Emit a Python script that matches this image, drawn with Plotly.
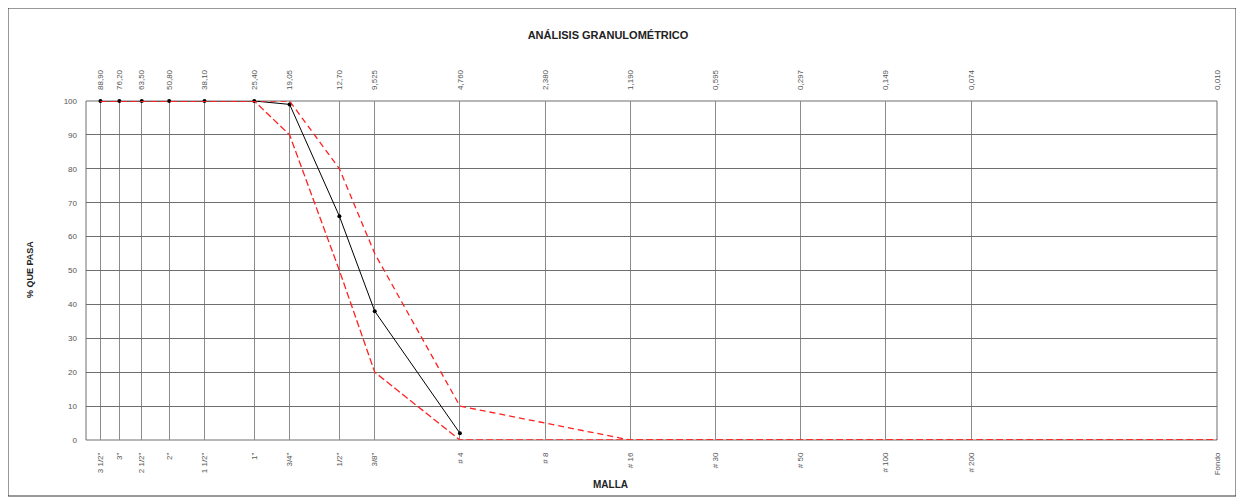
import plotly.graph_objects as go

sizes_mm = [88.9, 76.2, 63.5, 50.8, 38.1, 25.4, 19.05, 12.7, 9.525, 4.76, 2.38, 1.19, 0.595, 0.297, 0.149, 0.074, 0.010]
size_labels = ["88,90", "76,20", "63,50", "50,80", "38,10", "25,40", "19,05", "12,70", "9,525", "4,760",
               "2,380", "1,190", "0,595", "0,297", "0,149", "0,074", "0,010"]
mesh_labels = ['3 1/2"', '3"', '2 1/2"', '2"', '1 1/2"', '1"', '3/4"', '1/2"', '3/8"', '# 4',
               '# 8', '# 16', '# 30', '# 50', '# 100', '# 200', 'Fondo']

sample_x = [88.9, 76.2, 63.5, 50.8, 38.1, 25.4, 19.05, 12.7, 9.525, 4.76]
sample_pass = [100, 100, 100, 100, 100, 100, 99, 66, 38, 2]

upper_x = [88.9, 76.2, 63.5, 50.8, 38.1, 25.4, 19.05, 12.7, 9.525, 4.76, 2.38, 1.19, 0.595, 0.297, 0.149, 0.074, 0.010]
upper_pass = [100, 100, 100, 100, 100, 100, 100, 80, 55, 10, 5, 0, 0, 0, 0, 0, 0]
lower_x = [88.9, 76.2, 63.5, 50.8, 38.1, 25.4, 19.05, 12.7, 9.525, 4.76, 2.38, 1.19, 0.595, 0.297, 0.149, 0.074, 0.010]
lower_pass = [100, 100, 100, 100, 100, 100, 90, 50, 20, 0, 0, 0, 0, 0, 0, 0, 0]

# plot area in figure pixels (page has an 8px body margin)
L, R, T, B = 78, 1209, 93, 432
W, H = 1244, 498
PW, PH = R - L, B - T

fig = go.Figure()
fig.add_trace(go.Scatter(x=sample_x, y=sample_pass, mode="lines+markers", cliponaxis=False,
                         line=dict(color="#000000", width=1), marker=dict(color="#000000", size=4),
                         showlegend=False))
fig.add_trace(go.Scatter(x=upper_x, y=upper_pass, mode="lines", cliponaxis=False,
                         line=dict(color="#ff2020", width=1.3, dash="6px,4px"), showlegend=False))
fig.add_trace(go.Scatter(x=lower_x, y=lower_pass, mode="lines", cliponaxis=False,
                         line=dict(color="#ff2020", width=1.3, dash="7px,3px"), showlegend=False))
fig.add_trace(go.Scatter(x=sizes_mm, y=[None] * len(sizes_mm), xaxis="x2", mode="lines",
                         showlegend=False, hoverinfo="skip"))

tick_font = dict(family="Liberation Sans, Arial", size=8, color="#555555")
title_font = dict(family="Liberation Sans, Arial", color="#222222")
fig.update_layout(
    width=W, height=H,
    margin=dict(l=L, r=W - R, t=T, b=H - B),
    paper_bgcolor="white", plot_bgcolor="white",
    title=dict(text="<b>ANÁLISIS GRANULOMÉTRICO</b>", x=600 / W, xanchor="center", y=1 - 27 / H, yanchor="middle",
               font=dict(size=11, **title_font)),
    xaxis=dict(type="log", range=[2, -2], tickvals=sizes_mm, ticktext=mesh_labels, tickangle=-90,
               tickfont=tick_font, showgrid=True, gridcolor="#8c8c8c", gridwidth=1,
               showline=False, ticks="", ticklabelstandoff=10, zeroline=False),
    xaxis2=dict(type="log", range=[2, -2], overlaying="x", side="top", tickvals=sizes_mm,
                ticktext=size_labels, tickangle=-90, tickfont=tick_font, showgrid=False,
                showline=False, ticks="", zeroline=False, ticklabelstandoff=10),
    yaxis=dict(range=[0, 100], tickvals=list(range(0, 101, 10)), tickfont=tick_font,
               showgrid=True, gridcolor="#6e6e6e", gridwidth=1, showline=False,
               ticks="", zeroline=False, ticklabelstandoff=8),
    annotations=[
        dict(text="<b>MALLA</b>", xref="paper", yref="paper", x=(602 - L) / PW, y=(B - 476) / PH,
             showarrow=False, xanchor="center", yanchor="middle", font=dict(size=10, **title_font)),
        dict(text="<b>% QUE PASA</b>", xref="paper", yref="paper", x=(22 - L) / PW, y=(B - 262) / PH,
             showarrow=False, xanchor="center", yanchor="middle", textangle=-90, font=dict(size=9, **title_font)),
    ],
    shapes=[
        dict(type="rect", xref="paper", yref="paper", x0=0, x1=1, y0=0, y1=1,
             line=dict(color="#6e6e6e", width=1), fillcolor="rgba(0,0,0,0)", layer="between"),
        dict(type="rect", xref="paper", yref="paper",
             x0=(0 - L) / PW, x1=(1228 - L) / PW,
             y0=(B - 488) / PH, y1=(B - 0) / PH,
             line=dict(color="#333333", width=1), fillcolor="rgba(0,0,0,0)", layer="below"),
    ],
)

fig.write_html("out.html")
